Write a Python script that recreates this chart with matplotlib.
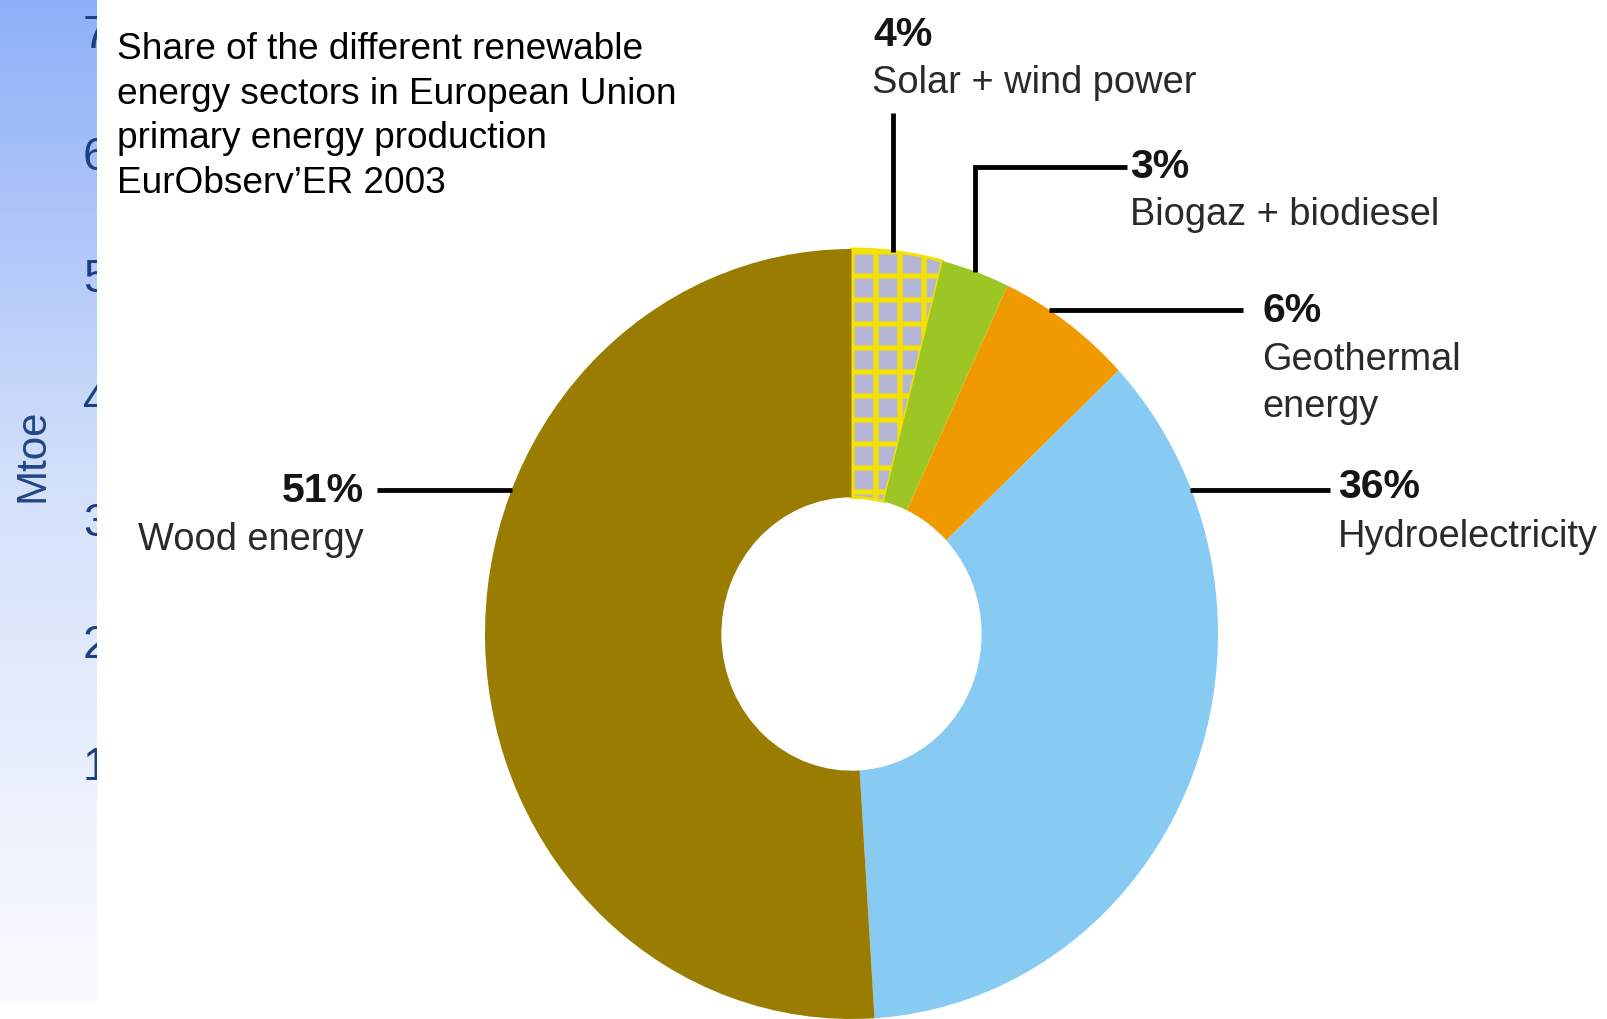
import numpy as np
import matplotlib
matplotlib.use('Agg')
import matplotlib.pyplot as plt
from matplotlib.colors import LinearSegmentedColormap

# share of renewable sectors, clockwise from 12 o'clock
sectors = ['Solar + wind power', 'Biogaz + biodiesel', 'Geothermal\nenergy', 'Hydroelectricity', 'Wood energy']
shares = [4, 3, 6, 36, 51]
colors = ['#b4b4d4', '#9bc623', '#f09a00', '#87cbf3', '#9a7d00']
mtoe_ticks = [1, 2, 3, 4, 5, 6, 7]
title_lines = ['Share of the different renewable',
               'energy sectors in European Union',
               'primary energy production',
               'EurObserv\u2019ER 2003']

plt.rcParams['hatch.linewidth'] = 2.6
sans = 'Liberation Sans'

DPI = 144
W, H = 1607, 1019
fig = plt.figure(figsize=(W / DPI, H / DPI), dpi=DPI)

# blue strip on the left (left over from the slide's bar chart)
ax_bg = fig.add_axes([0, 17 / H, 97 / W, 1002 / H])
grad = np.linspace(0, 1, 256).reshape(-1, 1)
cmap = LinearSegmentedColormap.from_list('strip', ['#8eb0f8', '#d6e2fa', '#fafbff'])
ax_bg.imshow(grad, aspect='auto', cmap=cmap, extent=[0, 1, -0.95, 7.26], origin='upper')
for v in mtoe_ticks:
    ax_bg.text(0.855, v - 0.135, str(v), ha='left', va='baseline', fontsize=23,
               color='#1c3f82', family=sans, clip_on=True)
ax_bg.text(0.34, (886 - 455) / 122, 'Mtoe', rotation=90, ha='center', va='center',
           fontsize=21, color='#234684', family=sans)
ax_bg.set_xlim(0, 1)
ax_bg.set_ylim(-0.95, 7.26)
ax_bg.axis('off')

# donut
ax = fig.add_axes([485 / W, 0, 733 / W, 770 / H])
wedges, _ = ax.pie(shares, colors=colors, startangle=90, counterclock=False, radius=1,
                   wedgeprops=dict(width=0.645, linewidth=0))
ax.set_aspect('auto')
ax.set_xlim(-1, 1)
ax.set_ylim(-1, 1)
wedges[0].set_hatch('+')
wedges[0].set_edgecolor('#f5e100')
wedges[0].set_linewidth(1.5)

# overlay in pixel coords for title, leaders and labels
ov = fig.add_axes([0, 0, 1, 1])
ov.set_xlim(0, W)
ov.set_ylim(H, 0)
ov.axis('off')

for i, line in enumerate(title_lines):
    ov.text(117, 59 + i * 44.7, line, ha='left', va='baseline', fontsize=18.5,
            family=sans, color='black')

lk = dict(color='black', lw=2.4, solid_capstyle='butt', solid_joinstyle='miter')
ov.plot([893, 893], [113, 252], **lk)
ov.plot([1127, 975, 975], [167, 167, 272], **lk)
ov.plot([1243, 1049], [310, 310], **lk)
ov.plot([1330, 1190], [490, 490], **lk)
ov.plot([377, 512], [490, 490], **lk)

pct = dict(fontsize=20.5, fontweight='bold', color='#151515', family=sans, va='baseline')
name = dict(fontsize=19, color='#2a2a2a', family=sans, va='baseline')

ov.text(873, 46, f'{shares[0]}%', ha='left', **pct)
ov.text(872, 93, sectors[0], ha='left', **name)
ov.text(1130, 178, f'{shares[1]}%', ha='left', **pct)
ov.text(1130, 225, sectors[1], ha='left', **name)
ov.text(1262, 322, f'{shares[2]}%', ha='left', **pct)
geo1, geo2 = sectors[2].split('\n')
ov.text(1262, 370, geo1, ha='left', **name)
ov.text(1262, 417, geo2, ha='left', **name)
ov.text(1338, 498, f'{shares[3]}%', ha='left', **pct)
ov.text(1338, 547, sectors[3], ha='left', **name)
ov.text(364, 502, f'{shares[4]}%', ha='right', **pct)
ov.text(364, 550, sectors[4], ha='right', **name)

fig.savefig('out.png', dpi=DPI)
